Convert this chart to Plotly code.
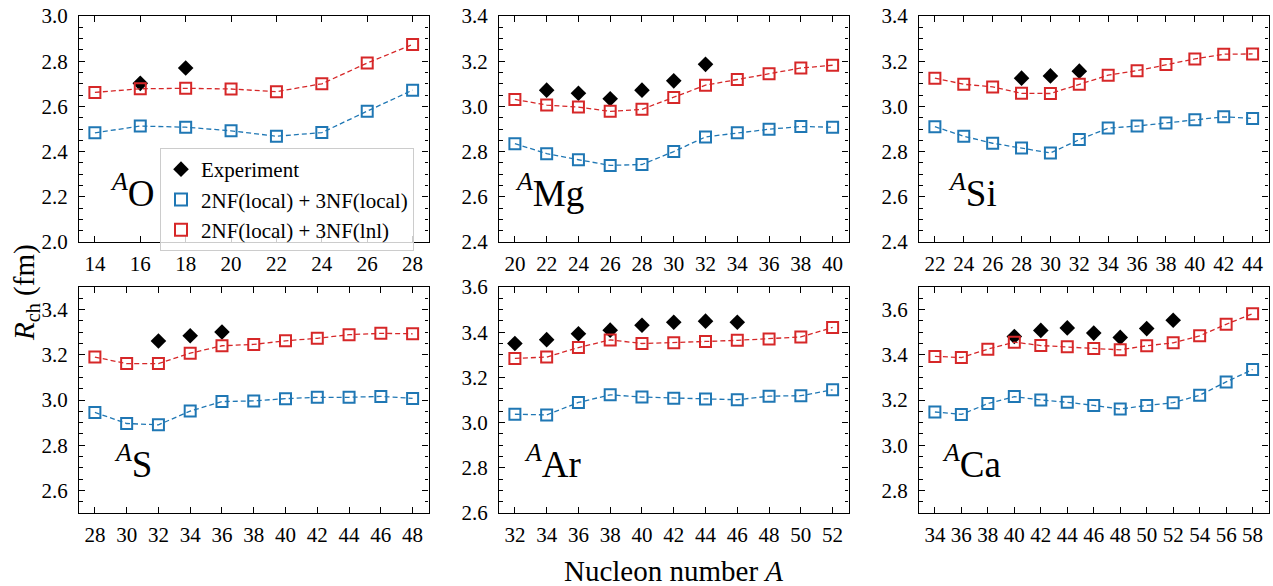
import plotly.graph_objects as go

# ---------------- data ----------------
o_A = [14, 16, 18, 20, 22, 24, 26, 28]
o_local = [2.483, 2.513, 2.508, 2.492, 2.468, 2.484, 2.579, 2.672]
o_lnl = [2.662, 2.678, 2.680, 2.677, 2.665, 2.700, 2.792, 2.874]
o_expA = [16, 18]
o_exp = [2.702, 2.770]

mg_A = [20, 22, 24, 26, 28, 30, 32, 34, 36, 38, 40]
mg_local = [2.835, 2.791, 2.764, 2.739, 2.743, 2.800, 2.865, 2.883, 2.899, 2.911, 2.908]
mg_lnl = [3.031, 3.006, 2.997, 2.978, 2.987, 3.039, 3.094, 3.119, 3.144, 3.170, 3.182]
mg_expA = [22, 24, 26, 28, 30, 32]
mg_exp = [3.072, 3.058, 3.034, 3.072, 3.113, 3.186]

si_A = [22, 24, 26, 28, 30, 32, 34, 36, 38, 40, 42, 44]
si_local = [2.910, 2.868, 2.837, 2.816, 2.794, 2.853, 2.904, 2.913, 2.926, 2.941, 2.954, 2.947]
si_lnl = [3.125, 3.098, 3.086, 3.058, 3.057, 3.098, 3.138, 3.158, 3.185, 3.210, 3.231, 3.232]
si_expA = [28, 30, 32]
si_exp = [3.125, 3.135, 3.156]

s_A = [28, 30, 32, 34, 36, 38, 40, 42, 44, 46, 48]
s_local = [2.945, 2.896, 2.890, 2.951, 2.993, 2.996, 3.006, 3.012, 3.012, 3.016, 3.007]
s_lnl = [3.190, 3.161, 3.161, 3.207, 3.240, 3.246, 3.262, 3.273, 3.289, 3.295, 3.293]
s_expA = [32, 34, 36]
s_exp = [3.261, 3.284, 3.301]

ar_A = [32, 34, 36, 38, 40, 42, 44, 46, 48, 50, 52]
ar_local = [3.037, 3.034, 3.089, 3.123, 3.113, 3.108, 3.104, 3.101, 3.117, 3.119, 3.145]
ar_lnl = [3.284, 3.290, 3.332, 3.366, 3.350, 3.353, 3.359, 3.364, 3.370, 3.379, 3.421]
ar_expA = [32, 34, 36, 38, 40, 42, 44, 46]
ar_exp = [3.350, 3.367, 3.393, 3.409, 3.431, 3.444, 3.449, 3.444]

ca_A = [34, 36, 38, 40, 42, 44, 46, 48, 50, 52, 54, 56, 58]
ca_local = [3.147, 3.136, 3.184, 3.215, 3.200, 3.190, 3.176, 3.160, 3.176, 3.188, 3.221, 3.280, 3.335]
ca_lnl = [3.393, 3.388, 3.425, 3.456, 3.441, 3.436, 3.428, 3.422, 3.440, 3.453, 3.484, 3.535, 3.582]
ca_expA = [40, 42, 44, 46, 48, 50, 52]
ca_exp = [3.481, 3.508, 3.519, 3.496, 3.477, 3.516, 3.553]

element_labels = ["O", "Mg", "Si", "S", "Ar", "Ca"]
x_ranges = [[13.3, 28.7], [19, 41], [20.9, 45.1], [27, 49], [31, 53], [32.8, 59.2]]
y_ranges = [[2.0, 3.0], [2.4, 3.4], [2.4, 3.4], [2.5, 3.5], [2.6, 3.6], [2.7, 3.7]]
series_names = ["Experiment", "2NF(local) + 3NF(local)", "2NF(local) + 3NF(lnl)"]

panels = [
    (o_A, o_local, o_lnl, o_expA, o_exp),
    (mg_A, mg_local, mg_lnl, mg_expA, mg_exp),
    (si_A, si_local, si_lnl, si_expA, si_exp),
    (s_A, s_local, s_lnl, s_expA, s_exp),
    (ar_A, ar_local, ar_lnl, ar_expA, ar_exp),
    (ca_A, ca_local, ca_lnl, ca_expA, ca_exp),
]

# ---------------- style ----------------
BLUE = "#1f77b4"
RED = "#d62728"
FONT = "Liberation Serif"
W, H = 1273, 586
col_px = [(79, 428.5), (499, 848.5), (919, 1268.5)]
row_px = [(16, 242), (287, 513)]

fig = go.Figure()
layout_axes = {}

for i, (A, loc, lnl, eA, ex) in enumerate(panels):
    k = i + 1
    xa, ya = f"x{k}", f"y{k}"
    first = (i == 0)
    fig.add_trace(go.Scatter(x=eA, y=ex, mode="markers", xaxis=xa, yaxis=ya,
                             name=series_names[0], showlegend=first, legendrank=1,
                             marker=dict(symbol="diamond", size=12, color="black",
                                         line=dict(width=0))))
    for vals, col in [(loc, BLUE), (lnl, RED)]:
        fig.add_trace(go.Scatter(x=A, y=vals, mode="lines", xaxis=xa, yaxis=ya,
                                 showlegend=False, hoverinfo="skip",
                                 line=dict(color=col, width=1.3, dash="5px,3px")))
    for vals, col, nm, rk in [(loc, BLUE, series_names[1], 2), (lnl, RED, series_names[2], 3)]:
        fig.add_trace(go.Scatter(x=A, y=vals, mode="markers", xaxis=xa, yaxis=ya,
                                 name=nm, showlegend=first, legendrank=rk,
                                 marker=dict(symbol="square-open", size=11, color=col,
                                             line=dict(width=2, color=col))))

    r, c = divmod(i, 3)
    x0, x1 = col_px[c]
    yt, yb = row_px[r]
    dom_x = [x0 / W, x1 / W]
    dom_y = [1 - yb / H, 1 - yt / H]
    axis_common = dict(showgrid=False, zeroline=False, showline=True, linecolor="black",
                       linewidth=1.2, mirror="allticks", ticks="inside", tickcolor="black",
                       tickwidth=1, ticklen=6, automargin=False,
                       tickfont=dict(family=FONT, size=21, color="black"))
    layout_axes["xaxis" + ("" if k == 1 else str(k))] = dict(
        axis_common, domain=dom_x, range=x_ranges[i], anchor=ya, dtick=2, tick0=0,
        ticklabelstandoff=3)
    layout_axes["yaxis" + ("" if k == 1 else str(k))] = dict(
        axis_common, domain=dom_y, range=y_ranges[i], anchor=xa, dtick=0.2, tick0=0,
        tickformat=".1f", ticklabelstandoff=6,
        minor=dict(dtick=0.05, tick0=0, ticks="inside", ticklen=3.5, tickwidth=1,
                   tickcolor="black", showgrid=False))

label_pos = [(0.083, 0.115), (0.04, 0.115), (0.077, 0.115),
             (0.095, 0.115), (0.066, 0.115), (0.06, 0.115)]
annotations = []
for i, lab in enumerate(element_labels):
    k = i + 1
    annotations.append(dict(
        text=f"<i><sup>A</sup></i>{lab}", xref=f"x{'' if k == 1 else k} domain",
        yref=f"y{'' if k == 1 else k} domain", x=label_pos[i][0], y=label_pos[i][1],
        xanchor="left", yanchor="bottom", showarrow=False,
        font=dict(family=FONT, size=37, color="black")))

annotations.append(dict(text="<i>R</i><sub>ch</sub> (fm)", xref="paper", yref="paper",
                        x=26 / W, y=1 - 293 / H, textangle=-90, showarrow=False,
                        xanchor="center", yanchor="middle",
                        font=dict(family=FONT, size=29, color="black")))
annotations.append(dict(text="Nucleon number <i>A</i>", xref="paper", yref="paper",
                        x=673 / W, y=1 - 571 / H, showarrow=False,
                        xanchor="center", yanchor="middle",
                        font=dict(family=FONT, size=29, color="black")))

fig.update_layout(
    template="none",
    width=W, height=H, margin=dict(l=0, r=0, t=0, b=0, autoexpand=False),
    paper_bgcolor="white", plot_bgcolor="white",
    font=dict(family=FONT, color="black"),
    showlegend=True,
    legend=dict(x=160 / W, y=1 - 148 / H, xanchor="left", yanchor="top",
                bgcolor="rgba(255,255,255,0.8)", bordercolor="#cccccc", borderwidth=1,
                font=dict(family=FONT, size=21, color="black"),
                itemsizing="constant", tracegroupgap=0, itemwidth=30),
    annotations=annotations,
    **layout_axes,
)

fig.write_html("out.html", config={"displayModeBar": False},
               post_script="document.body.style.margin='0';")
